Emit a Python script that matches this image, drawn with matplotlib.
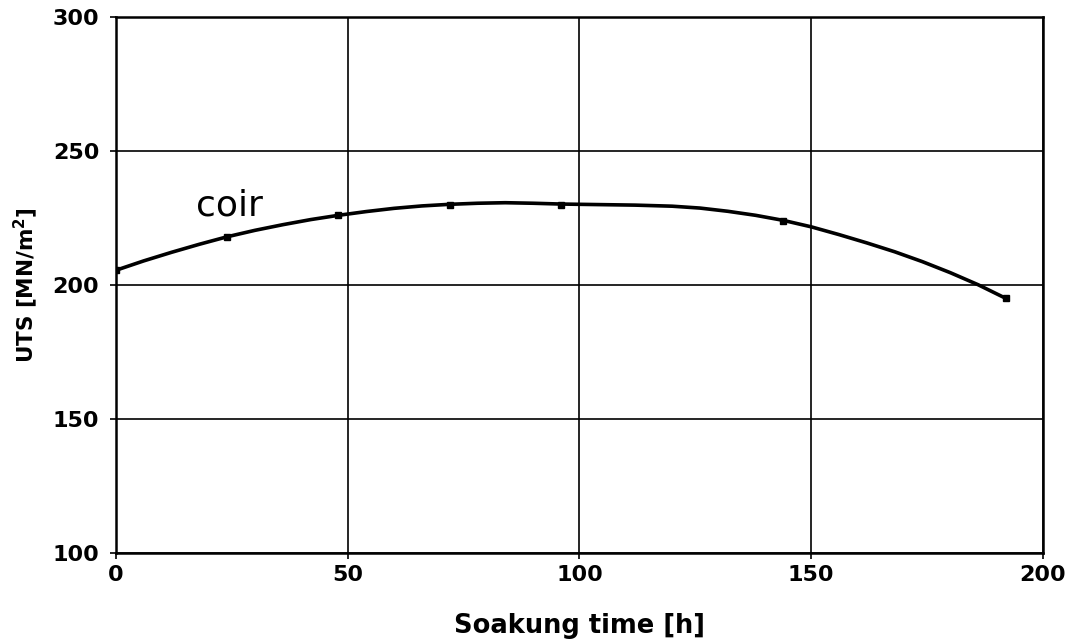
import matplotlib.pyplot as plt

# measured points
hours = [0, 24, 48, 72, 96, 144, 192]
uts = [205.5, 218, 226, 230, 230, 224, 195]

# smooth curve
curve_hours = [0, 6, 12, 18, 24, 30, 36, 42, 48, 54, 60, 66, 72, 78, 84, 90, 96,
               104, 112, 120, 126, 132, 138, 144, 150, 156, 162, 168, 174, 180, 186, 192]
curve_uts = [205.5, 209, 212.2, 215.2, 218, 220.4, 222.5, 224.4, 226, 227.4, 228.6, 229.5,
             230.1, 230.5, 230.7, 230.5, 230.2, 230, 229.8, 229.4, 228.7, 227.5, 226, 224.1,
             221.7, 218.8, 215.7, 212.4, 208.7, 204.6, 200.1, 195]

plt.rcParams['font.family'] = ['DejaVu Sans']

fig = plt.figure(figsize=(10.79, 6.41), dpi=100)
ax = fig.add_axes([0.1075, 0.1373, 0.8591, 0.8362])

ax.plot(curve_hours, curve_uts, color='black', linewidth=2.6, zorder=3)
ax.plot(hours, uts, linestyle='none', marker='s', markersize=4.5, color='black', zorder=4)

ax.set_xlim(0, 200)
ax.set_ylim(100, 300)
ax.set_xticks([0, 50, 100, 150, 200])
ax.set_yticks([100, 150, 200, 250, 300])
ax.grid(True, color='black', linewidth=1.2)
ax.tick_params(direction='out', length=4, width=1.2, labelsize=16, pad=5)
ax.tick_params(axis='y', pad=8)
for lab in ax.get_xticklabels() + ax.get_yticklabels():
    lab.set_fontweight('bold')
for s in ax.spines.values():
    s.set_linewidth(1.8)

ax.set_xlabel('Soakung time [h]', fontsize=18.5, fontweight='bold', labelpad=20)
ax.set_ylabel('UTS [MN/m$^\\mathbf{2}$]', fontsize=15.5, fontweight='bold', labelpad=9)
ax.text(17.3, 226, 'coir', fontsize=26)

fig.savefig('out.png', dpi=100)
